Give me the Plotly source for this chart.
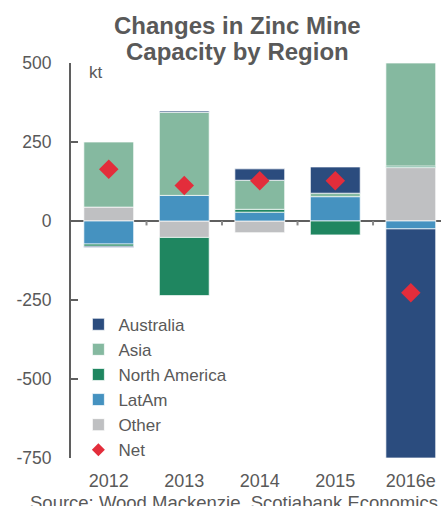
import plotly.graph_objects as go

TEXT_GREY = "#595959"
AXIS_GREY = "#5f5f5f"

AUSTRALIA_BLUE = "#2B4C7E"
ASIA_GREEN = "#85B9A0"
NORTH_AMERICA_GREEN = "#1F8660"
LATAM_BLUE = "#4592C0"
OTHER_GREY = "#BFC0C2"
NET_RED = "#E32D3B"

years = ["2012", "2013", "2014", "2015", "2016e"]

# kt
other = [44, -52, -37, 0, 169]
latam = [-73, 81, 28, 77, -25]
north_america = [-7, -184, 9, -44, 5]
asia = [206, 263, 92, 11, 326]
australia = [-4, 4, 36, 83, -725]
net = [164, 112, 127, 127, -227]

y_ticks = [500, 250, 0, -250, -500, -750]
y_tick_text = ["500", "250", "0", "-250", "-500", "-750"]

title_lines = ["Changes in Zinc Mine", "Capacity by Region"]

fig = go.Figure()

# stacking order bottom-up: Other, LatAm, North America, Asia, Australia
bar_series = [
    ("Other", other, OTHER_GREY, 5),
    ("LatAm", latam, LATAM_BLUE, 4),
    ("North America", north_america, NORTH_AMERICA_GREEN, 3),
    ("Asia", asia, ASIA_GREEN, 2),
    ("Australia", australia, AUSTRALIA_BLUE, 1),
]

for name, values, color, rank in bar_series:
    fig.add_trace(go.Bar(x=years,
                         y=values,
                         name=name,
                         legendrank=rank,
                         marker=dict(color=color,
                                     line=dict(color="rgba(255,255,255,0.7)",
                                               width=1))))

fig.add_trace(go.Scatter(x=years,
                         y=net,
                         name="Net",
                         showlegend=False,
                         mode="markers",
                         marker=dict(symbol="diamond",
                                     size=15,
                                     color=NET_RED)))

# legend entry only, with a smaller diamond like the reference
fig.add_trace(go.Scatter(x=[None],
                         y=[None],
                         name="Net",
                         legendrank=6,
                         mode="markers",
                         marker=dict(symbol="diamond",
                                     size=10,
                                     color=NET_RED)))

# small tick marks between categories on the zero line
for i in range(len(years) - 1):
    fig.add_shape(type="line",
                  xref="x",
                  yref="y",
                  x0=i + 0.5,
                  x1=i + 0.5,
                  y0=0,
                  y1=-14,
                  line=dict(color="#8a8a8a", width=2),
                  layer="above")

fig.update_layout(
    width=441,
    height=506,
    barmode="relative",
    bargap=0.34,
    plot_bgcolor="white",
    paper_bgcolor="white",
    font=dict(family="Liberation Sans, Arial, sans-serif",
              color=TEXT_GREY,
              size=16),
    margin=dict(l=71, r=0, t=63, b=48, autoexpand=False),
    showlegend=True,
    legend=dict(x=0.02,
                y=0.383,
                xanchor="left",
                yanchor="top",
                bgcolor="rgba(0,0,0,0)",
                font=dict(size=17, color=TEXT_GREY),
                itemwidth=30,
                tracegroupgap=0),
)

fig.update_xaxes(range=[-0.5, 4.4],
                 automargin=False,
                 showgrid=False,
                 showline=False,
                 ticks="",
                 ticklabelstandoff=10,
                 tickfont=dict(size=18, color=TEXT_GREY))

fig.update_yaxes(range=[-750, 500],
                 automargin=False,
                 tickvals=y_ticks,
                 ticktext=y_tick_text,
                 showgrid=False,
                 showline=True,
                 linecolor=AXIS_GREY,
                 linewidth=2,
                 ticks="inside",
                 ticklen=7,
                 tickwidth=2,
                 tickcolor=AXIS_GREY,
                 ticklabelstandoff=14,
                 zeroline=True,
                 zerolinecolor=AXIS_GREY,
                 zerolinewidth=2,
                 layer="above traces",
                 tickfont=dict(size=17.5, color=TEXT_GREY))

for line, ypos in zip(title_lines, [1.094, 1.030]):
    fig.add_annotation(text="<b>" + line + "</b>",
                       xref="paper",
                       yref="paper",
                       x=0.451,
                       y=ypos,
                       xanchor="center",
                       yanchor="middle",
                       showarrow=False,
                       font=dict(size=24, color=TEXT_GREY))

fig.add_annotation(text="kt",
                   xref="paper",
                   yref="paper",
                   x=0.043,
                   y=1.005,
                   xanchor="left",
                   yanchor="top",
                   showarrow=False,
                   font=dict(size=17, color=TEXT_GREY))

fig.add_annotation(text="Source: Wood Mackenzie, Scotiabank Economics",
                   xref="paper",
                   yref="paper",
                   x=0.44,
                   y=-0.082,
                   xanchor="center",
                   yanchor="top",
                   showarrow=False,
                   font=dict(size=18.5, color=TEXT_GREY))

fig.write_html("out.html",
               config={"displayModeBar": False},
               post_script="document.body.style.margin='0';")
